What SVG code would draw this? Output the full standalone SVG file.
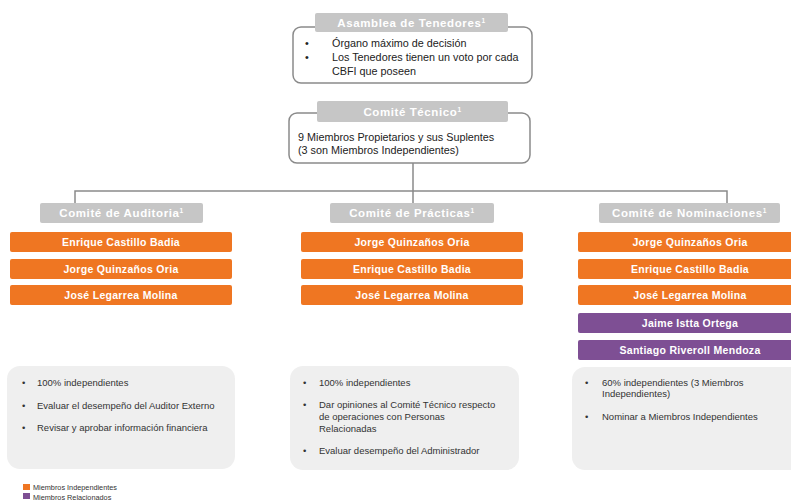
<svg xmlns="http://www.w3.org/2000/svg" width="791" height="504" viewBox="0 0 791 504">
<style>
text{font-family:"Liberation Sans",Arial,sans-serif}
.frame{fill:#fff;stroke:#8a8a8a;stroke-width:1.5}
.hdr{fill:#c6c6c6}
.htxt{fill:#fff;font-size:11.5px;font-weight:bold;text-anchor:middle;letter-spacing:0.6px}
.sup{font-size:6.5px}
.body{fill:#222;font-size:10.8px}
.or{fill:#ef7622}
.pu{fill:#7e4f94}
.btxt{fill:#fff;font-size:10.5px;font-weight:bold;text-anchor:middle;letter-spacing:0.3px}
.note{fill:#efefef}
.ntxt{fill:#333;font-size:9.5px}
.conn{fill:none;stroke:#8a8a8a;stroke-width:1.5}
.leg{fill:#333;font-size:7.3px}
</style>
<g id="connectors">
<path class="conn" d="M413,163 V191 M75,203 V191 H727 V203 M413,191 V203"/>
</g>
<g id="asamblea">
<rect class="frame" x="293" y="27" width="239" height="56" rx="8"/>
<rect class="hdr" x="315" y="13" width="193" height="19" rx="2"/>
<text class="htxt" x="411.5" y="26.5">Asamblea de Tenedores<tspan class="sup" dy="-4">1</tspan></text>
<text class="body" x="305" y="47">•</text>
<text class="body" x="332" y="47">Órgano máximo de decisión</text>
<text class="body" x="305" y="61">•</text>
<text class="body" x="332" y="61">Los Tenedores tienen un voto por cada</text>
<text class="body" x="332" y="75">CBFI que poseen</text>
</g>
<g id="tecnico">
<rect class="frame" x="289" y="113" width="241" height="50" rx="8"/>
<rect class="hdr" x="317" y="101" width="191" height="21" rx="2"/>
<text class="htxt" x="412.5" y="116">Comité Técnico<tspan class="sup" dy="-4">1</tspan></text>
<text class="body" x="298" y="141">9 Miembros Propietarios y sus Suplentes</text>
<text class="body" x="298" y="154">(3 son Miembros Independientes)</text>
</g>
<g id="auditoria">
<rect class="hdr" x="40" y="203" width="163" height="20" rx="2"/>
<text class="htxt" x="121.5" y="217">Comité de Auditoria<tspan class="sup" dy="-4">1</tspan></text>
<rect class="or" x="10" y="232" width="222" height="20" rx="2"/>
<text class="btxt" x="121" y="246">Enrique Castillo Badia</text>
<rect class="or" x="10" y="259" width="222" height="20" rx="2"/>
<text class="btxt" x="121" y="273">Jorge Quinzaños Oria</text>
<rect class="or" x="10" y="285" width="222" height="20" rx="2"/>
<text class="btxt" x="121" y="299">José Legarrea Molina</text>
<rect class="note" x="7" y="366" width="228" height="103" rx="13"/>
<text class="ntxt" x="22" y="386">•</text>
<text class="ntxt" x="37" y="386">100% independientes</text>
<text class="ntxt" x="22" y="409">•</text>
<text class="ntxt" x="37" y="409">Evaluar el desempeño del Auditor Externo</text>
<text class="ntxt" x="22" y="431">•</text>
<text class="ntxt" x="37" y="431">Revisar y aprobar información financiera</text>
</g>
<g id="practicas">
<rect class="hdr" x="330" y="203" width="164" height="20" rx="2"/>
<text class="htxt" x="412" y="217">Comité de Prácticas<tspan class="sup" dy="-4">1</tspan></text>
<rect class="or" x="301" y="232" width="222" height="20" rx="2"/>
<text class="btxt" x="412" y="246">Jorge Quinzaños Oria</text>
<rect class="or" x="301" y="259" width="222" height="20" rx="2"/>
<text class="btxt" x="412" y="273">Enrique Castillo Badia</text>
<rect class="or" x="301" y="285" width="222" height="20" rx="2"/>
<text class="btxt" x="412" y="299">José Legarrea Molina</text>
<rect class="note" x="290" y="366" width="229" height="104" rx="13"/>
<text class="ntxt" x="303" y="386">•</text>
<text class="ntxt" x="319" y="386">100% independientes</text>
<text class="ntxt" x="303" y="408">•</text>
<text class="ntxt" x="319" y="408">Dar opiniones al Comité Técnico respecto</text>
<text class="ntxt" x="319" y="420">de operaciones con Personas</text>
<text class="ntxt" x="319" y="432">Relacionadas</text>
<text class="ntxt" x="303" y="454">•</text>
<text class="ntxt" x="319" y="454">Evaluar desempeño del Administrador</text>
</g>
<g id="nominaciones">
<rect class="hdr" x="599" y="203" width="181" height="20" rx="2"/>
<text class="htxt" x="689.5" y="217">Comité de Nominaciones<tspan class="sup" dy="-4">1</tspan></text>
<rect class="or" x="578" y="232" width="224" height="20" rx="2"/>
<text class="btxt" x="690" y="246">Jorge Quinzaños Oria</text>
<rect class="or" x="578" y="259" width="224" height="20" rx="2"/>
<text class="btxt" x="690" y="273">Enrique Castillo Badia</text>
<rect class="or" x="578" y="285" width="224" height="20" rx="2"/>
<text class="btxt" x="690" y="299">José Legarrea Molina</text>
<rect class="pu" x="578" y="313" width="224" height="20" rx="2"/>
<text class="btxt" x="690" y="327">Jaime Istta Ortega</text>
<rect class="pu" x="578" y="340" width="224" height="20" rx="2"/>
<text class="btxt" x="690" y="354">Santiago Riveroll Mendoza</text>
<rect class="note" x="572" y="367" width="240" height="103" rx="13"/>
<text class="ntxt" x="585" y="386">•</text>
<text class="ntxt" x="602" y="386">60% independientes (3 Miembros</text>
<text class="ntxt" x="602" y="397">Independientes)</text>
<text class="ntxt" x="585" y="420">•</text>
<text class="ntxt" x="602" y="420">Nominar a Miembros Independientes</text>
</g>
<g id="legend">
<rect class="or" x="23" y="484" width="7" height="6"/>
<text class="leg" x="33" y="490">Miembros Independientes</text>
<rect class="pu" x="23" y="493" width="7" height="6"/>
<text class="leg" x="33" y="499.5">Miembros Relacionados</text>
</g>
</svg>
